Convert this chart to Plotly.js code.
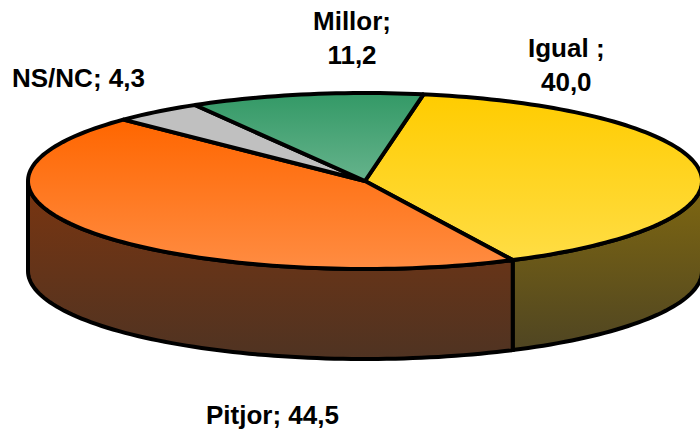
<!DOCTYPE html>
<html><head><meta charset="utf-8">
<script src="https://cdn.plot.ly/plotly-3.0.1.min.js"></script>
<style>html,body{margin:0;padding:0;background:#fff}#c{width:700px;height:430px}</style>
</head><body><div id="c"></div>
<script>
const categories = ['Igual ;', 'Pitjor;', 'NS/NC;', 'Millor;'];
const values = [40.0, 44.5, 4.3, 11.2];
const topColors = [['#ffcc00','#ffdd44'],['#ff6600','#ff8c42'],['#c0c0c0','#c0c0c0'],['#339966','#66b38c']];
const wallColors = [['#806810','#4f4522'],['#7a3510','#4f3322'],['#666666','#444444'],['#1a4d33','#0f2e1f']];
const labelX = [566, 272, 78, 352];
const labelY = [65, 415, 78, 38];
const labelBreak = [true, false, false, true];

const W = 700, H = 430, cx = 365, cy = 181, rx = 337, ry = 88, depth = 90, startDeg = 10;
const rad = d => d * Math.PI / 180;
const px = d => cx + rx * Math.sin(rad(d));
const py = (d, dz) => cy - ry * Math.cos(rad(d)) + (dz || 0);
function arc(a, b, dz) {
  const n = Math.max(2, Math.ceil(Math.abs(b - a) / 1.5)), xs = [], ys = [];
  for (let i = 0; i <= n; i++) { const t = a + (b - a) * i / n; xs.push(px(t)); ys.push(py(t, dz)); }
  return [xs, ys];
}
const total = values.reduce((s, v) => s + v, 0);
let acc = startDeg;
const spans = values.map(v => { const a = acc; acc += v / total * 360; return [a, acc]; });
const shape = (x, y, c) => ({
  type: 'scatter', mode: 'lines', x, y, fill: 'toself', hoverinfo: 'skip', showlegend: false,
  line: { color: '#000', width: 4, simplify: false }, cliponaxis: true,
  fillcolor: c[0],
  fillgradient: { type: 'vertical', colorscale: [[0, c[1]], [1, c[0]]] }
});
const traces = [];
spans.forEach((s, i) => {
  const a = Math.max(s[0], 90), b = Math.min(s[1], 270);
  if (b <= a) return;
  const [tx, ty] = arc(a, b, 0), [bx, by] = arc(b, a, depth);
  traces.push(shape(tx.concat(bx, tx[0]), ty.concat(by, ty[0]), wallColors[i]));
});
spans.forEach((s, i) => {
  const [tx, ty] = arc(s[0], s[1], 0);
  traces.push(shape([cx].concat(tx, cx), [cy].concat(ty, cy), topColors[i]));
});
const annotations = categories.map((c, i) => ({
  x: labelX[i], y: labelY[i], xref: 'x', yref: 'y', showarrow: false, align: 'center',
  text: c + (labelBreak[i] ? '<br>' : ' ') + values[i].toFixed(1).replace('.', ','),
  font: { family: 'Liberation Sans, Arial, sans-serif', size: 26, color: '#000', weight: 700 }
}));
Plotly.newPlot('c', traces, {
  width: W, height: H, margin: { l: 0, r: 0, t: 0, b: 0 }, paper_bgcolor: '#fff', plot_bgcolor: '#fff',
  xaxis: { range: [0, W], visible: false, fixedrange: true },
  yaxis: { range: [H, 0], visible: false, fixedrange: true },
  showlegend: false, annotations
}, { displayModeBar: false, staticPlot: true });
</script></body></html>
